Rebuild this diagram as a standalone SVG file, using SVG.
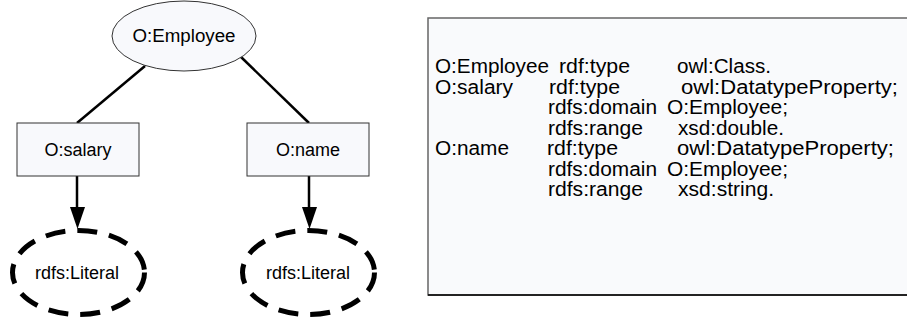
<svg xmlns="http://www.w3.org/2000/svg" width="907" height="324" viewBox="0 0 907 324">
<defs>
<style>
.lbl{font-family:"Liberation Sans",Arial,sans-serif;font-size:18px;fill:#000;text-anchor:middle}
.txt{font-family:"Liberation Sans",Arial,sans-serif;font-size:20px;fill:#000}
.node{fill:#f8f9fc;stroke:#333;stroke-width:1}
.lit{fill:none;stroke:#000;stroke-width:5;stroke-dasharray:20 12}
.edge{stroke:#000;stroke-width:2.5;fill:none}
</style>
</defs>
<rect width="907" height="324" fill="#fff"/>
<g id="connectors">
<line class="edge" x1="145" y1="66" x2="77" y2="123"/>
<line class="edge" x1="241" y1="57" x2="309" y2="123"/>
<path class="edge" d="M77,176 V207"/>
<path d="M70,207 L85,207 L77.5,229 Z" fill="#000"/>
<path class="edge" d="M309,176 V207"/>
<path d="M302,207 L317,207 L309.5,229 Z" fill="#000"/>
</g>
<g id="employee">
<ellipse class="node" cx="184" cy="36" rx="72" ry="35"/>
<text class="lbl" x="184" y="42" textLength="103" lengthAdjust="spacingAndGlyphs">O:Employee</text>
</g>
<g id="salary">
<rect class="node" x="17" y="123" width="122" height="53"/>
<text class="lbl" x="78" y="156">O:salary</text>
</g>
<g id="name">
<rect class="node" x="247" y="123" width="122" height="53"/>
<text class="lbl" x="308" y="156">O:name</text>
</g>
<g id="literal1">
<ellipse class="lit" cx="78.5" cy="272.5" rx="66" ry="42"/>
<text class="lbl" x="77" y="279">rdfs:Literal</text>
</g>
<g id="literal2">
<ellipse class="lit" cx="308.5" cy="272.5" rx="66" ry="42"/>
<text class="lbl" x="308" y="279">rdfs:Literal</text>
</g>
<g id="triples">
<rect x="428" y="18" width="490" height="277" fill="#f9fafc" stroke="#666" stroke-width="1.5"/>
<line x1="428" y1="295" x2="907" y2="295" stroke="#000" stroke-width="1.5"/>
<text class="txt" x="435" y="73" textLength="114" lengthAdjust="spacingAndGlyphs">O:Employee</text>
<text class="txt" x="559" y="73" textLength="71" lengthAdjust="spacingAndGlyphs">rdf:type</text>
<text class="txt" x="677" y="73" textLength="94" lengthAdjust="spacingAndGlyphs">owl:Class.</text>
<text class="txt" x="435" y="93.5" textLength="78" lengthAdjust="spacingAndGlyphs">O:salary</text>
<text class="txt" x="549" y="93.5" textLength="71" lengthAdjust="spacingAndGlyphs">rdf:type</text>
<text class="txt" x="681" y="93.5" textLength="217" lengthAdjust="spacingAndGlyphs">owl:DatatypeProperty;</text>
<text class="txt" x="548" y="114" textLength="109" lengthAdjust="spacingAndGlyphs">rdfs:domain</text>
<text class="txt" x="667" y="114" textLength="121" lengthAdjust="spacingAndGlyphs">O:Employee;</text>
<text class="txt" x="548" y="134.5" textLength="95" lengthAdjust="spacingAndGlyphs">rdfs:range</text>
<text class="txt" x="678" y="134.5" textLength="106" lengthAdjust="spacingAndGlyphs">xsd:double.</text>
<text class="txt" x="435" y="155" textLength="74" lengthAdjust="spacingAndGlyphs">O:name</text>
<text class="txt" x="547" y="155" textLength="71" lengthAdjust="spacingAndGlyphs">rdf:type</text>
<text class="txt" x="677" y="155" textLength="217" lengthAdjust="spacingAndGlyphs">owl:DatatypeProperty;</text>
<text class="txt" x="548" y="175.5" textLength="109" lengthAdjust="spacingAndGlyphs">rdfs:domain</text>
<text class="txt" x="667" y="175.5" textLength="121" lengthAdjust="spacingAndGlyphs">O:Employee;</text>
<text class="txt" x="548" y="196" textLength="95" lengthAdjust="spacingAndGlyphs">rdfs:range</text>
<text class="txt" x="678" y="196" textLength="96" lengthAdjust="spacingAndGlyphs">xsd:string.</text>
</g>
</svg>
